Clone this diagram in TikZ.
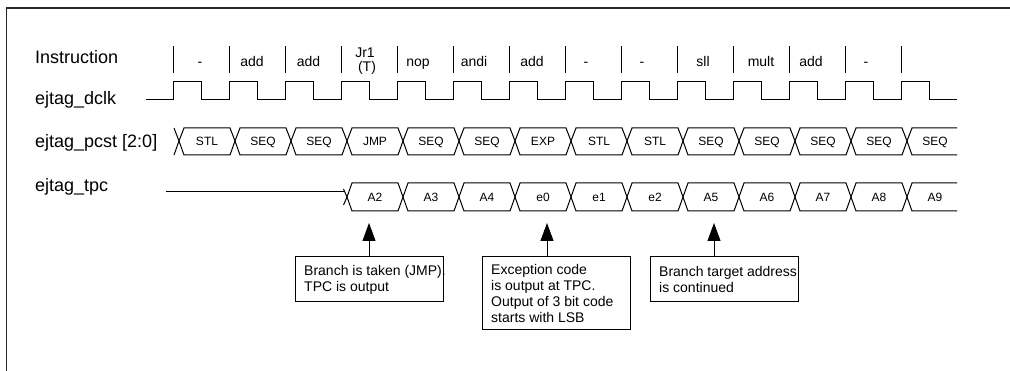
\documentclass[tikz,border=0pt]{standalone}
\usepackage{fontspec}
\setmainfont{Liberation Sans}
\usetikzlibrary{arrows.meta}
\begin{document}
\begin{tikzpicture}[x=1pt,y=-1pt,
  sig/.style={line width=1pt, black},
  siglabel/.style={anchor=base west, inner sep=0pt, font=\fontsize{18}{20}\selectfont},
  instr/.style={anchor=base, inner sep=0pt, font=\fontsize{14}{15}\selectfont},
  buslbl/.style={anchor=base, inner sep=0pt, font=\fontsize{12}{14}\selectfont},
  notebox/.style={draw, line width=1pt, minimum width=148pt, inner sep=0pt},
  notetext/.style={anchor=west, inner sep=0pt, align=left, font=\fontsize{14}{16}\selectfont},
  callout/.style={line width=1pt, -{Triangle[length=18pt,width=13pt]}},
  frameline/.style={line width=1.5pt, black!85}
]
\useasboundingbox (0,0) rectangle (1010,371);
% frame
\draw[frameline] (6.5,371) -- (6.5,8) -- (1010,8);

% signal names
\node[siglabel] (lblInstr) at (35,63.3) {Instruction};
\node[siglabel] (lblClk) at (35,105) {ejtag\_dclk};
\node[siglabel] (lblPcst) at (35,148) {ejtag\_pcst [2:0]};
\node[siglabel] (lblTpc) at (35,191.7) {ejtag\_tpc};

% instruction ticks
\foreach \k in {0,...,13} \draw[sig] ({173+56*\k},46) -- ({173+56*\k},73);

% instruction names
\node[instr] (i0) at (200,67) {-};
\node[instr] (i1) at (252,67) {add};
\node[instr] (i2) at (308.5,67) {add};
\node[instr] (i3) at (365,58) {Jr1};
\node[instr] (i3b) at (367,72) {(T)};
\node[instr] (i4) at (418,67) {nop};
\node[instr] (i5) at (474,67) {andi};
\node[instr] (i6) at (532,67) {add};
\node[instr] (i7) at (586,67) {-};
\node[instr] (i8) at (642,67) {-};
\node[instr] (i9) at (703,67) {sll};
\node[instr] (i10) at (761,67) {mult};
\node[instr] (i11) at (811,67) {add};
\node[instr] (i12) at (866,67) {-};

% clock
\draw[sig] (146,100) \foreach \k in {0,...,13} { -- ({173+56*\k},100) -- ({173+56*\k},82) -- ({201+56*\k},82) -- ({201+56*\k},100) } -- (957,100);

% pcst bus
\draw[sig] (174,128) -- (179,141) -- (174,155);
\foreach \k in {0,...,12} {
  \pgfmathsetmacro{\a}{179+56*\k}
  \pgfmathsetmacro{\b}{235+56*\k}
  \draw[sig] (\a,141) -- ({\a+5},128) -- ({\b-5},128) -- (\b,141) -- ({\b-5},155) -- ({\a+5},155) -- cycle;
}
\draw[sig] (957,128) -- (912,128) -- (907,141) -- (912,155) -- (957,155);
\foreach \t [count=\k from 0] in {STL,SEQ,SEQ,JMP,SEQ,SEQ,EXP,STL,STL,SEQ,SEQ,SEQ,SEQ,SEQ}
  \node[buslbl] (p\k) at ({207+56*\k},145.3) {\t};

% tpc bus
\draw[sig] (166,192) -- (344,192);
\draw[sig] (343.5,189) -- (347,197) -- (343.5,205);
\foreach \k in {3,...,12} {
  \pgfmathsetmacro{\a}{179+56*\k}
  \pgfmathsetmacro{\b}{235+56*\k}
  \draw[sig] (\a,197) -- ({\a+5},183) -- ({\b-5},183) -- (\b,197) -- ({\b-5},211) -- ({\a+5},211) -- cycle;
}
\draw[sig] (957,183) -- (912,183) -- (907,197) -- (912,211) -- (957,211);
\foreach \t [count=\k from 3] in {A2,A3,A4,e0,e1,e2,A5,A6,A7,A8,A9}
  \node[buslbl] (q\k) at ({207+56*\k},201.3) {\t};

% callouts
\coordinate (tip1) at (369,223);
\coordinate (tip2) at (547,223);
\coordinate (tip3) at (714,223);

\node[notebox, minimum height=45pt] (b1) at (369,279.5) {};
\node[notebox, minimum height=73pt] (b2) at (556,293.5) {};
\node[notebox, minimum height=45pt] (b3) at (724,279.5) {};

\node[notetext] (t1) at (304,279.5) {Branch is taken (JMP).\\TPC is output};
\node[notetext] (t2) at (491,293.5) {Exception code\\is output at TPC.\\Output of 3 bit code\\starts with LSB};
\node[notetext] (t3) at (659,279.5) {Branch target address\\is continued};

\draw[callout] (tip1 |- b1.north) -- (tip1);
\draw[callout] (tip2 |- b2.north) -- (tip2);
\draw[callout] (tip3 |- b3.north) -- (tip3);
\end{tikzpicture}
\end{document}
